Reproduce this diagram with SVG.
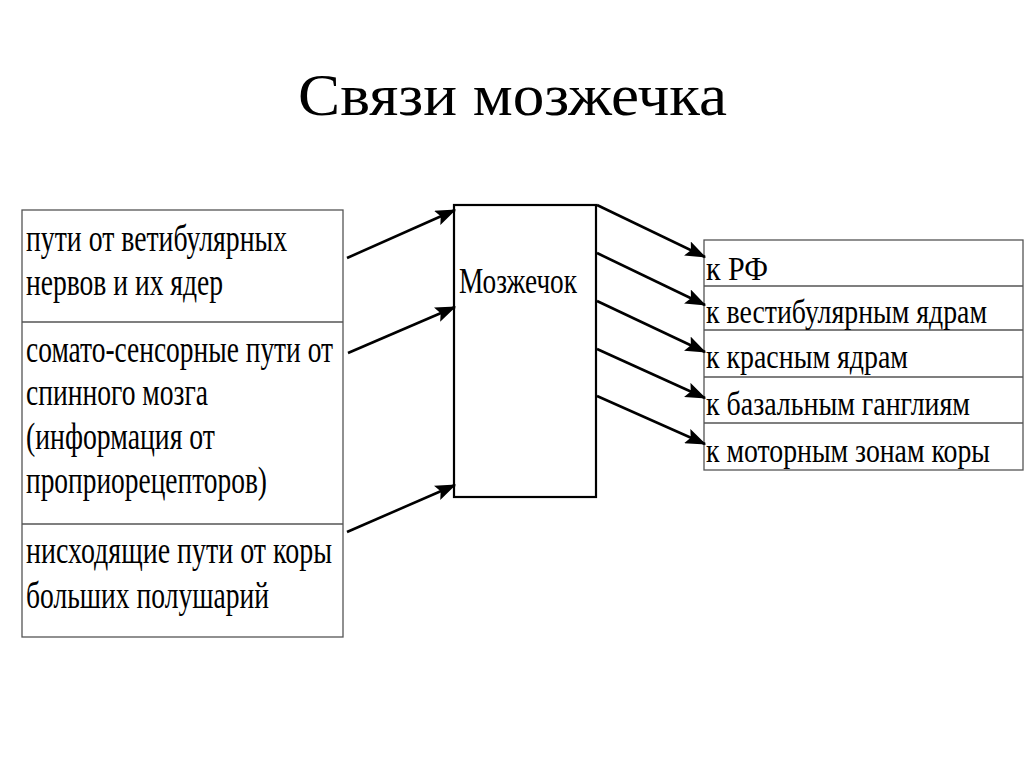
<svg xmlns="http://www.w3.org/2000/svg" width="1024" height="767" viewBox="0 0 1024 767">
<style>
.t{font-family:"Liberation Serif","Times New Roman",serif;fill:#000}
.box{fill:#fff;stroke:#555;stroke-width:1.3}
.main{fill:#fff;stroke:#000;stroke-width:2.2}
.ar{stroke:#000;stroke-width:2.6;fill:none;marker-end:url(#ah)}
</style>
<defs>
<marker id="ah" markerWidth="8" markerHeight="6" refX="7.5" refY="3" orient="auto" markerUnits="strokeWidth">
<path d="M0,0 L8,3 L0,6 L1.5,3 Z" fill="#000"/>
</marker>
</defs>
<rect width="1024" height="767" fill="#fff"/>
<text class="t" x="298" y="115" font-size="60" textLength="429" lengthAdjust="spacingAndGlyphs">Связи мозжечка</text>

<g id="inputs">
<rect class="box" x="22" y="210" width="321" height="427"/>
<line class="box" x1="22" y1="322" x2="343" y2="322"/>
<line class="box" x1="22" y1="524" x2="343" y2="524"/>
<g id="in1" class="t" font-size="37">
<text x="26" y="251" textLength="261" lengthAdjust="spacingAndGlyphs">пути от ветибулярных</text>
<text x="26" y="295" textLength="197" lengthAdjust="spacingAndGlyphs">нервов и их ядер</text>
</g>
<g id="in2" class="t" font-size="37">
<text x="26" y="362" textLength="307" lengthAdjust="spacingAndGlyphs">сомато-сенсорные пути от</text>
<text x="26" y="405" textLength="182" lengthAdjust="spacingAndGlyphs">спинного мозга</text>
<text x="26" y="449" textLength="189" lengthAdjust="spacingAndGlyphs">(информация от</text>
<text x="26" y="493" textLength="241" lengthAdjust="spacingAndGlyphs">проприорецепторов)</text>
</g>
<g id="in3" class="t" font-size="37">
<text x="26" y="563" textLength="306" lengthAdjust="spacingAndGlyphs">нисходящие пути от коры</text>
<text x="26" y="608" textLength="243" lengthAdjust="spacingAndGlyphs">больших полушарий</text>
</g>
</g>

<g id="cerebellum">
<rect class="main" x="454" y="205" width="142" height="292"/>
<text class="t" x="459" y="293" font-size="36" textLength="118" lengthAdjust="spacingAndGlyphs">Мозжечок</text>
</g>

<g id="outputs">
<rect class="box" x="704" y="240" width="319" height="230"/>
<line class="box" x1="704" y1="286" x2="1023" y2="286"/>
<line class="box" x1="704" y1="330" x2="1023" y2="330"/>
<line class="box" x1="704" y1="377" x2="1023" y2="377"/>
<line class="box" x1="704" y1="423" x2="1023" y2="423"/>
<g id="out1"><text class="t" font-size="34" transform="translate(706,280) scale(0.82,1)" x="0" y="0" textLength="75.6" lengthAdjust="spacingAndGlyphs">к РФ</text></g>
<g id="out2"><text class="t" font-size="34" transform="translate(706,323) scale(0.82,1)" x="0" y="0" textLength="342.7" lengthAdjust="spacingAndGlyphs">к вестибулярным ядрам</text></g>
<g id="out3"><text class="t" font-size="34" transform="translate(706,368) scale(0.82,1)" x="0" y="0" textLength="246.3" lengthAdjust="spacingAndGlyphs">к красным ядрам</text></g>
<g id="out4"><text class="t" font-size="34" transform="translate(706,415) scale(0.82,1)" x="0" y="0" textLength="322" lengthAdjust="spacingAndGlyphs">к базальным ганглиям</text></g>
<g id="out5"><text class="t" font-size="34" transform="translate(706,462) scale(0.82,1)" x="0" y="0" textLength="346.3" lengthAdjust="spacingAndGlyphs">к моторным зонам коры</text></g>
</g>

<g id="connectors">
<line class="ar" x1="347" y1="258" x2="455" y2="210"/>
<line class="ar" x1="348" y1="353" x2="455" y2="307"/>
<line class="ar" x1="347" y1="532" x2="455" y2="485"/>
<line class="ar" x1="597" y1="205" x2="705" y2="257"/>
<line class="ar" x1="597" y1="253" x2="705" y2="305"/>
<line class="ar" x1="597" y1="301" x2="705" y2="352"/>
<line class="ar" x1="597" y1="349" x2="705" y2="398"/>
<line class="ar" x1="597" y1="396" x2="705" y2="444"/>
</g>
</svg>
